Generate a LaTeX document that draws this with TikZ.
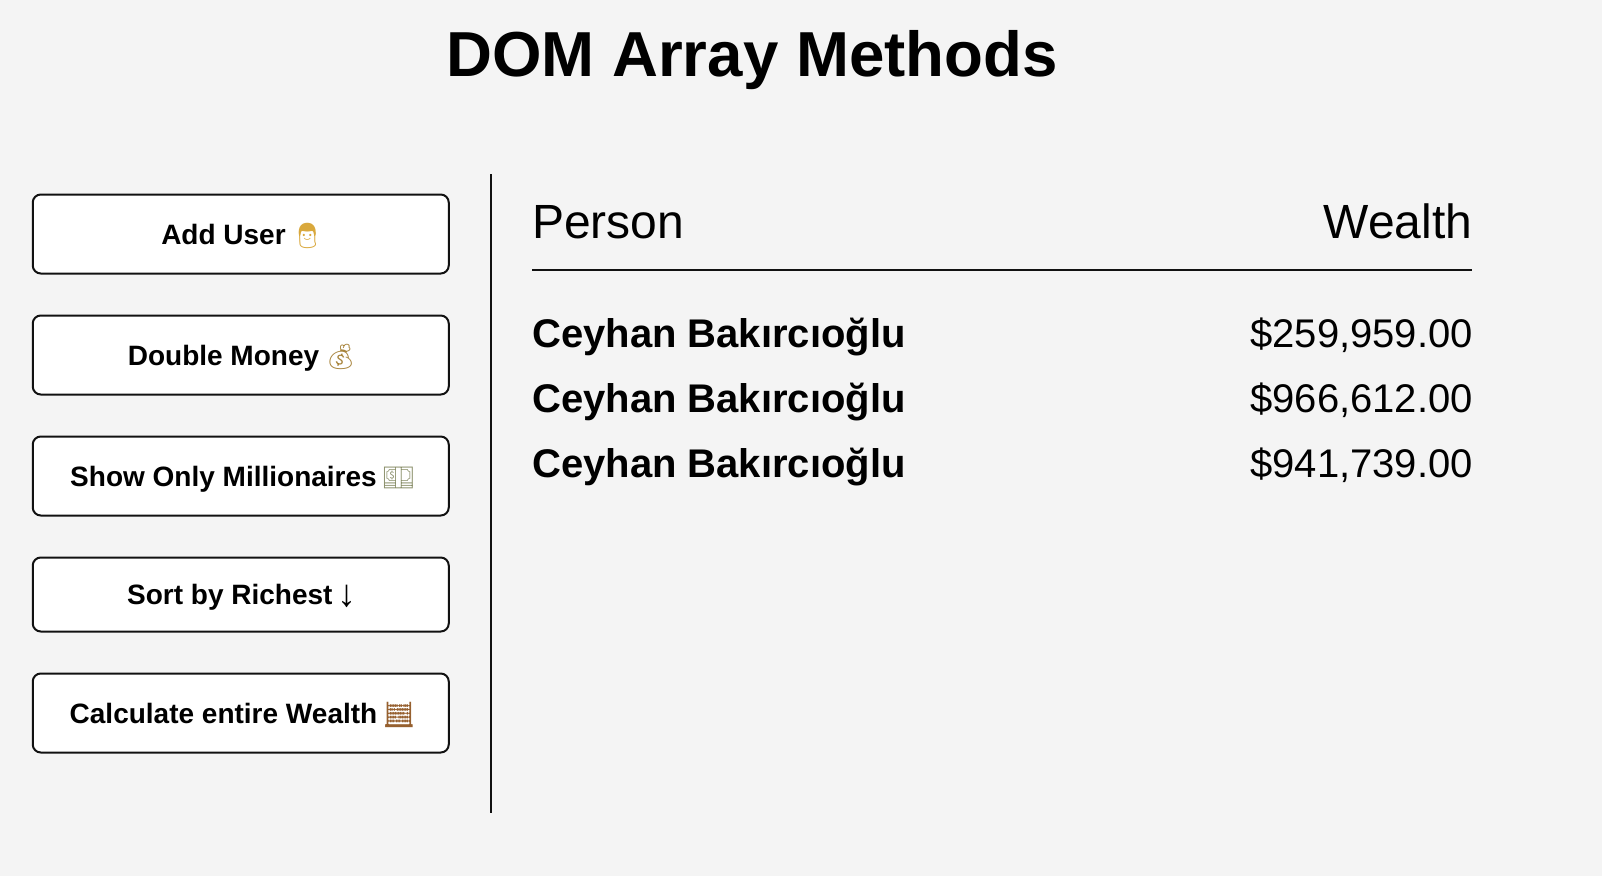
\documentclass[tikz,border=0pt]{standalone}
\usepackage{fontspec}
\usepackage{xcolor}
\setmainfont{Liberation Sans}
\newfontfamily\emojifont{Noto Emoji}
\usepackage{tikz}
\usetikzlibrary{positioning}
\definecolor{pagebg}{HTML}{F4F4F4}
\definecolor{inkc}{HTML}{111111}
\definecolor{hairc}{HTML}{D9A83C}
\definecolor{bagc}{HTML}{A8843C}
\definecolor{notec}{HTML}{8A8F6A}
\definecolor{abacusc}{HTML}{96602F}
\newcommand{\emo}[2]{\hspace{-2pt}{\emojifont\fontsize{25}{30}\selectfont\color{#1}#2}\kern-3pt}

\begin{document}
\begin{tikzpicture}[
  x=1pt,y=-1pt,
  node distance=42pt,
  btn/.style={draw=inkc,fill=white,line width=2pt,rounded corners=8pt,outer sep=0pt,inner sep=0pt,
    minimum width=416pt,minimum height=79pt,text height=20pt,text depth=0pt,font=\fontsize{28}{32}\selectfont\bfseries},
  head/.style={inner sep=0pt,font=\fontsize{48}{54}\selectfont},
  who/.style={inner sep=0pt,anchor=base west,font=\fontsize{40}{46}\selectfont\bfseries},
  money/.style={inner sep=0pt,anchor=base east,font=\fontsize{40}{46}\selectfont},
  rulel/.style={draw=inkc,line width=2pt}
]
\fill[pagebg] (0,0) rectangle (1602,876);
\node[inner sep=0pt,anchor=base,font=\fontsize{63.6}{70}\selectfont\bfseries] (title) at (752,76.5) {DOM Array Methods};

% buttons
\node[btn] (add) at (240.75,234) {Add User \emo{hairc}{👨}};
\node[btn,below=of add] (double) {Double Money \emo{bagc}{💰}};
\node[btn,below=of double] (mill) {Show Only Millionaires \emo{notec}{💵}};
\node[btn,below=of mill,minimum height=74pt] (sort) {Sort by Richest \makebox[14pt][c]{\raisebox{-2pt}{\mdseries\fontsize{38}{40}\selectfont ↓}}};
\node[btn,below=of sort] (calc) {Calculate entire Wealth \emo{abacusc}{🧮}};

% divider
\coordinate (divtop) at (491,174);
\coordinate (divbot) at (491,813);
\draw[rulel] (divtop) -- (divbot);

% table
\node[head,anchor=base west] (person) at (532,238) {Person};
\node[head,anchor=base east] (wealth) at (1472.5,238) {Wealth};
\coordinate (rowl) at (532,270);
\coordinate (rowr) at (1472,270);
\draw[rulel] (rowl) -- (rowr);

\node[who] (name1) at (532,347) {Ceyhan Bakırcıoğlu};
\node[who] (name2) at (532,412) {Ceyhan Bakırcıoğlu};
\node[who] (name3) at (532,477) {Ceyhan Bakırcıoğlu};
\node[money] (sum1) at (1473,347) {\$259,959.00};
\node[money] (sum2) at (1473,412) {\$966,612.00};
\node[money] (sum3) at (1473,477) {\$941,739.00};
\end{tikzpicture}
\end{document}
